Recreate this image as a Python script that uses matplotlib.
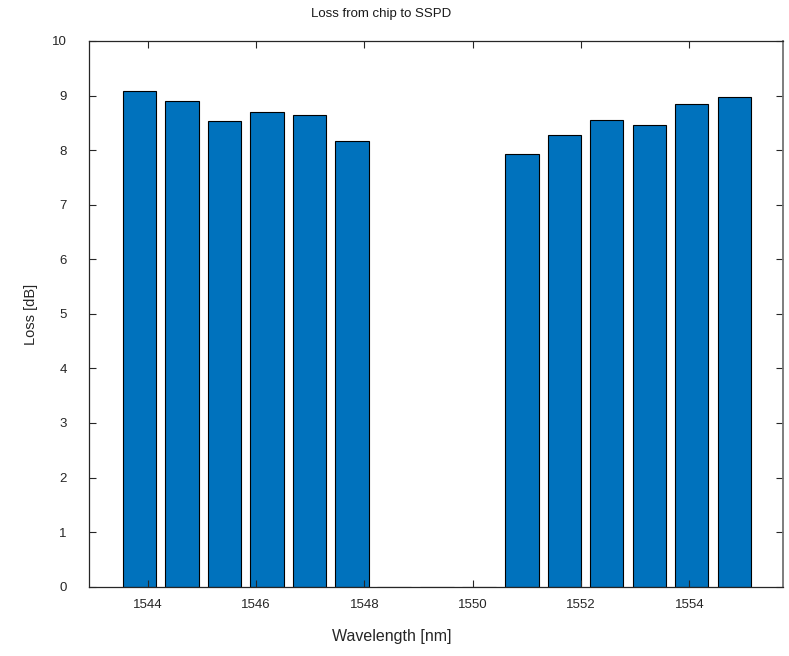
import matplotlib
matplotlib.use('Agg')
from matplotlib import pyplot as plt

plt.rcParams['font.family'] = ['Liberation Sans', 'DejaVu Sans']

wavelength = [1543.85, 1544.63, 1545.42, 1546.20, 1546.99, 1547.77, 1548.55, 1549.34,
              1550.12, 1550.91, 1551.69, 1552.47, 1553.26, 1554.04, 1554.83]
loss_db = [9.08, 8.90, 8.53, 8.70, 8.64, 8.17, 0, 0,
           0, 7.93, 8.27, 8.56, 8.46, 8.84, 8.98]
xticks = [1544, 1546, 1548, 1550, 1552, 1554]
yticks = list(range(0, 11))

fig = plt.figure(figsize=(7.89, 6.56), dpi=100)
ax = fig.add_axes([0.113, 0.1056, 0.88, 0.832])

ax.bar(wavelength, loss_db, width=0.62, color='#0072BD', edgecolor='black', linewidth=0.8)

ax.set_xlim(1542.92, 1555.735)
ax.set_ylim(0, 10)
ax.set_xticks(xticks)
ax.set_yticks(yticks)
ax.tick_params(direction='in', length=5, width=0.8, top=True, right=True,
               labelsize=9.5, colors='0.15')
ax.tick_params(axis='x', pad=9)
ax.tick_params(axis='y', pad=16)
for s in ax.spines.values():
    s.set_color('0.15')
    s.set_linewidth(0.9)
ax.spines['right'].set_color('0.45')
ax.spines['right'].set_linewidth(1.3)

fig.text(0.483, 0.979, 'Loss from chip to SSPD', ha='center', va='center', fontsize=9.5, color='0.1')
fig.text(0.497, 0.03, 'Wavelength [nm]', ha='center', va='center', fontsize=11.5, color='0.15')
fig.text(0.039, 0.52, 'Loss [dB]', ha='center', va='center', rotation=90, fontsize=10.5, color='0.15')

fig.savefig('out.png', dpi=100)
